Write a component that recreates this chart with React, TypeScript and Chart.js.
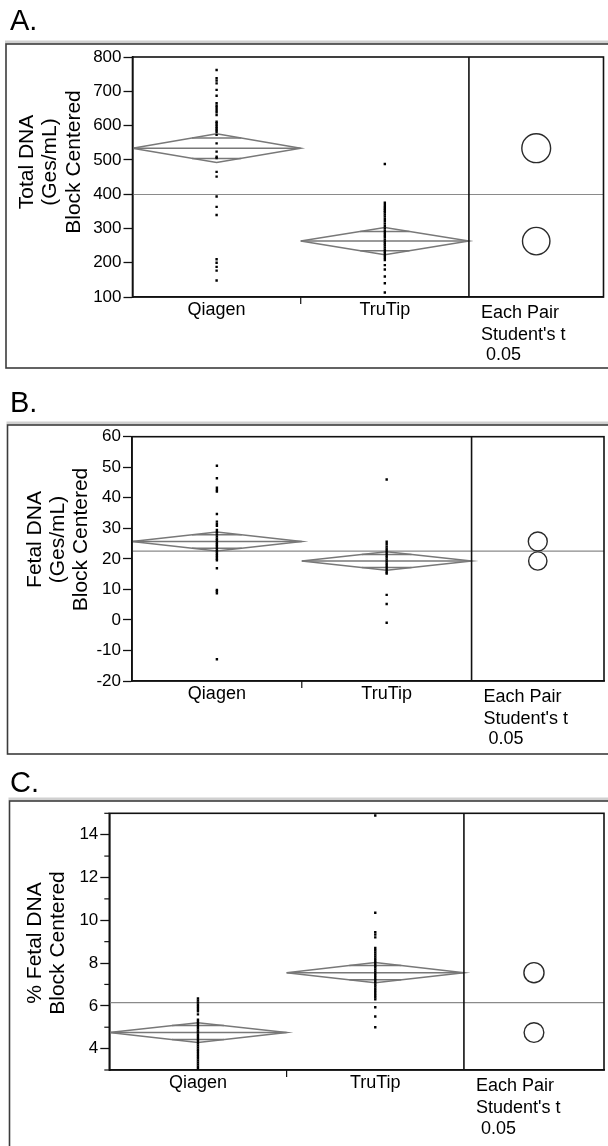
import React, { useEffect, useRef } from 'react';
import { Chart, registerables } from 'chart.js';

Chart.register(...registerables);

const FONT = '"Liberation Sans", Arial, Helvetica, sans-serif';
const W = 608;

// ---------- shared labels ----------
const categories = ['Qiagen', 'TruTip'];
const comparisonLabel = ['Each Pair', "Student's t", ' 0.05'];
const panelLetters = ['A.', 'B.', 'C.'];

// ---------- Panel A: Total DNA ----------
const totalDnaTitle = ['Total DNA', '(Ges/mL)', 'Block Centered'];
const totalDnaAxis = [100, 800, 100]; // min, max, step
const totalDnaQiagen = [762, 738, 731, 723, 704, 687, 665, 658, 652, 645, 639, 631, 611, 607, 602, 597, 592, 587, 582, 573, 548, 524, 509, 505, 465, 451, 393, 363, 339, 210, 200, 188, 177, 148];
const totalDnaTruTip = [488, 375, 368, 362, 357, 352, 347, 341, 335, 328, 321, 314, 307, 300, 293, 287, 281, 275, 268, 262, 256, 250, 244, 238, 232, 226, 220, 214, 208, 193, 180, 160, 140, 113];
const totalDnaMeans = [534, 263];
const totalDnaCI = [42, 40];
const totalDnaGrandMean = 399;

// ---------- Panel B: Fetal DNA ----------
const fetalDnaTitle = ['Fetal DNA', '(Ges/mL)', 'Block Centered'];
const fetalDnaAxis = [-20, 60, 10];
const fetalDnaQiagen = [50.5, 46.4, 43.3, 42.5, 42.0, 34.7, 32.2, 31.4, 30.8, 29.5, 28.7, 28.0, 27.3, 26.6, 26.0, 25.4, 24.8, 24.2, 23.6, 23.0, 22.4, 21.8, 21.2, 20.6, 20.0, 19.5, 16.9, 9.8, 9.3, 8.7, -12.9];
const fetalDnaTruTip = [46.0, 25.6, 24.8, 24.0, 23.3, 22.6, 21.9, 21.2, 20.5, 19.8, 19.1, 18.4, 17.7, 17.0, 16.3, 15.6, 15.2, 8.2, 5.2, -0.9];
const fetalDnaMeans = [25.7, 19.3];
const fetalDnaCI = [3.1, 3.0];
const fetalDnaGrandMean = 22.5;

// ---------- Panel C: % Fetal DNA ----------
const pctFetalTitle = ['% Fetal DNA', 'Block Centered'];
const pctFetalAxis = [3, 15, 1];
const pctFetalLabelStep = 2;
const pctFetalQiagen = [6.35, 6.25, 6.15, 6.05, 5.95, 5.85, 5.75, 5.6, 5.35, 5.25, 5.15, 5.05, 4.95, 4.85, 4.75, 4.65, 4.55, 4.45, 4.35, 4.25, 4.15, 4.05, 3.95, 3.85, 3.75, 3.65, 3.55, 3.45, 3.35, 3.25, 3.15, 3.05];
const pctFetalTruTip = [14.9, 10.35, 9.44, 9.33, 9.2, 8.7, 8.6, 8.5, 8.4, 8.3, 8.2, 8.1, 8.0, 7.9, 7.8, 7.7, 7.6, 7.5, 7.4, 7.3, 7.2, 7.1, 7.0, 6.9, 6.8, 6.7, 6.6, 6.5, 6.4, 6.3, 5.93, 5.5, 5.0];
const pctFetalMeans = [4.75, 7.55];
const pctFetalCI = [0.46, 0.47];
const pctFetalGrandMean = 6.15;

// ---------- layout (pixels, per panel canvas) ----------
const layouts = [
  { top: 0, height: 380, frame: { left: 6, top: 44, bottom: 368 }, plot: { left: 132.5, right: 603.5, top: 57, bottom: 297 }, xMax: 2.3, letterY: 30, titleX: [32.5, 56, 79.5], titleY: 162, compY: [311, 333, 353] },
  { top: 380, height: 380, frame: { left: 7.5, top: 45, bottom: 374 }, plot: { left: 132, right: 605, top: 56.7, bottom: 301 }, xMax: 2.28, letterY: 32, titleX: [40.5, 63.5, 86.5], titleY: 159.5, compY: [315, 337, 357] },
  { top: 760, height: 386, frame: { left: 9.5, top: 41, bottom: 430 }, plot: { left: 109.3, right: 606, top: 53.3, bottom: 310 }, xMax: 2.29, letterY: 32, titleX: [40.5, 63.5], titleY: 183, compY: [324, 346.7, 367] },
];

const panels = [
  { letter: panelLetters[0], title: totalDnaTitle, axis: totalDnaAxis, labelStep: 0, groups: [totalDnaQiagen, totalDnaTruTip], means: totalDnaMeans, ci: totalDnaCI, grandMean: totalDnaGrandMean, layout: layouts[0] },
  { letter: panelLetters[1], title: fetalDnaTitle, axis: fetalDnaAxis, labelStep: 0, groups: [fetalDnaQiagen, fetalDnaTruTip], means: fetalDnaMeans, ci: fetalDnaCI, grandMean: fetalDnaGrandMean, layout: layouts[1] },
  { letter: panelLetters[2], title: pctFetalTitle, axis: pctFetalAxis, labelStep: pctFetalLabelStep, groups: [pctFetalQiagen, pctFetalTruTip], means: pctFetalMeans, ci: pctFetalCI, grandMean: pctFetalGrandMean, layout: layouts[2] },
];

const DIVIDER = 1.5;

function makePlugin(spec: any) {
  const L = spec.layout;
  return {
    id: 'panelDecor',
    beforeDraw(chart: any) {
      const ctx = chart.ctx;
      ctx.save();
      // outer frame
      ctx.fillStyle = '#d0d0d0';
      ctx.fillRect(L.frame.left - 1, L.frame.top - 3.5, W + 10, 3);
      ctx.strokeStyle = '#3c3c3c';
      ctx.lineWidth = 1.6;
      ctx.strokeRect(L.frame.left, L.frame.top, W + 20, L.frame.bottom - L.frame.top);
      // panel letter
      ctx.fillStyle = '#000';
      ctx.font = `29px ${FONT}`;
      ctx.textAlign = 'left';
      ctx.textBaseline = 'alphabetic';
      ctx.fillText(spec.letter, 10, L.letterY);
      // y title
      ctx.font = `21px ${FONT}`;
      ctx.textAlign = 'center';
      spec.title.forEach((line: string, i: number) => {
        ctx.save();
        ctx.translate(L.titleX[i], L.titleY);
        ctx.rotate(-Math.PI / 2);
        ctx.fillText(line, 0, 0);
        ctx.restore();
      });
      ctx.restore();
    },
    afterDraw(chart: any) {
      const ctx = chart.ctx;
      const area = chart.chartArea;
      const xs = chart.scales.x;
      const ys = chart.scales.y;
      ctx.save();
      // plot box
      ctx.strokeStyle = '#111';
      ctx.lineWidth = 1.6;
      ctx.strokeRect(area.left, area.top, area.right - area.left, area.bottom - area.top);
      // divider
      const dx = xs.getPixelForValue(DIVIDER);
      ctx.beginPath();
      ctx.moveTo(dx, area.top);
      ctx.lineTo(dx, area.bottom);
      ctx.stroke();
      // boundary tick between categories
      const bx = xs.getPixelForValue(0.5);
      ctx.lineWidth = 1.2;
      ctx.beginPath();
      ctx.moveTo(bx, area.bottom);
      ctx.lineTo(bx, area.bottom + 7);
      ctx.stroke();
      // minor ticks
      if (spec.labelStep) {
        ys.ticks.forEach((t: any) => {
          if (t.value % spec.labelStep !== 0) {
            const py = ys.getPixelForValue(t.value);
            ctx.beginPath();
            ctx.moveTo(area.left - 5, py);
            ctx.lineTo(area.left, py);
            ctx.stroke();
          }
        });
      }
      // comparison circles
      const cx = (dx + area.right) / 2;
      ctx.strokeStyle = '#2a2a2a';
      ctx.lineWidth = 1.4;
      spec.means.forEach((m: number, i: number) => {
        const cy = ys.getPixelForValue(m);
        const r = Math.abs(ys.getPixelForValue(m + spec.ci[i]) - cy);
        ctx.beginPath();
        ctx.arc(cx, cy, r, 0, Math.PI * 2);
        ctx.stroke();
      });
      // comparison label
      ctx.fillStyle = '#000';
      ctx.font = `18px ${FONT}`;
      ctx.textAlign = 'left';
      ctx.textBaseline = 'alphabetic';
      comparisonLabel.forEach((line, i) => {
        ctx.fillText(line, dx + 12, L.compY[i] + 6.5);
      });
      ctx.restore();
    },
  };
}

function buildConfig(spec: any) {
  const L = spec.layout;
  const datasets: any[] = [];
  datasets.push({
    data: [{ x: -0.5, y: spec.grandMean }, { x: L.xMax, y: spec.grandMean }],
    showLine: true, borderColor: '#8a8a8a', borderWidth: 1.2, pointRadius: 0, order: 3, clip: false,
  });
  const lineStyle = { showLine: true, borderColor: '#787878', borderWidth: 1.5, pointRadius: 0, order: 2, clip: false, tension: 0 };
  spec.means.forEach((m: number, i: number) => {
    const c = spec.ci[i];
    datasets.push({
      ...lineStyle,
      data: [{ x: i - 0.5, y: m }, { x: i, y: m + c }, { x: i + 0.5, y: m }, { x: i, y: m - c }, { x: i - 0.5, y: m }],
    });
    datasets.push({ ...lineStyle, data: [{ x: i - 0.5, y: m }, { x: i + 0.5, y: m }] });
    const d = c / Math.SQRT2;
    const hw = 0.5 * (1 - 1 / Math.SQRT2);
    [m + d, m - d].forEach((y) => {
      datasets.push({ ...lineStyle, data: [{ x: i - hw, y }, { x: i + hw, y }] });
    });
    datasets.push({
      data: spec.groups[i].map((v: number) => ({ x: i, y: v })),
      showLine: false, pointStyle: 'rect', pointRadius: 1.7, backgroundColor: '#000', borderWidth: 0, order: 1,
    });
  });

  return {
    type: 'scatter',
    data: { datasets },
    plugins: [makePlugin(spec)],
    options: {
      responsive: false,
      animation: false,
      devicePixelRatio: 1,
      layout: { padding: { left: 0, top: L.plot.top, right: W - L.plot.right, bottom: 0 } },
      plugins: { legend: { display: false }, tooltip: { enabled: false }, title: { display: false } },
      events: [],
      scales: {
        x: {
          type: 'linear', min: -0.5, max: L.xMax, bounds: 'data',
          afterBuildTicks: (s: any) => { s.ticks = categories.map((_, i) => ({ value: i })); },
          afterFit: (s: any) => { s.height = L.height - L.plot.bottom; },
          grid: { display: false, drawTicks: false },
          border: { display: true, color: '#111', width: 1.6 },
          ticks: {
            autoSkip: false, maxRotation: 0, minRotation: 0, padding: 2, color: '#000',
            font: { size: 18, family: FONT },
            callback: (_v: any, i: number) => categories[i],
          },
        },
        y: {
          type: 'linear', min: spec.axis[0], max: spec.axis[1],
          afterFit: (s: any) => { s.width = L.plot.left; },
          grid: {
            display: true, drawOnChartArea: false, drawTicks: true, tickLength: 9, tickWidth: 1.3,
            tickColor: (ctx: any) => (spec.labelStep && ctx.tick && ctx.tick.value % spec.labelStep !== 0 ? 'rgba(0,0,0,0)' : '#111'),
          },
          border: { display: true, color: '#111', width: 1.6 },
          ticks: {
            stepSize: spec.axis[2], autoSkip: false, padding: 2, color: '#000',
            font: { size: 17, family: FONT },
            callback: (v: number) => (spec.labelStep && v % spec.labelStep !== 0 ? '' : String(v)),
          },
        },
      },
    },
  };
}

function Panel({ spec }: { spec: any }) {
  const ref = useRef<HTMLCanvasElement>(null);
  useEffect(() => {
    const chart = new Chart(ref.current as HTMLCanvasElement, buildConfig(spec) as any);
    return () => chart.destroy();
  }, [spec]);
  const L = spec.layout;
  return (
    <canvas
      ref={ref}
      width={W}
      height={L.height}
      style={{ position: 'absolute', left: 0, top: L.top, width: W, height: L.height }}
    />
  );
}

export default function App() {
  return (
    <div style={{ position: 'absolute', left: 0, top: 0, width: W, height: 1146, background: '#fff', overflow: 'hidden' }}>
      {panels.map((p, i) => (
        <Panel key={i} spec={p} />
      ))}
    </div>
  );
}
